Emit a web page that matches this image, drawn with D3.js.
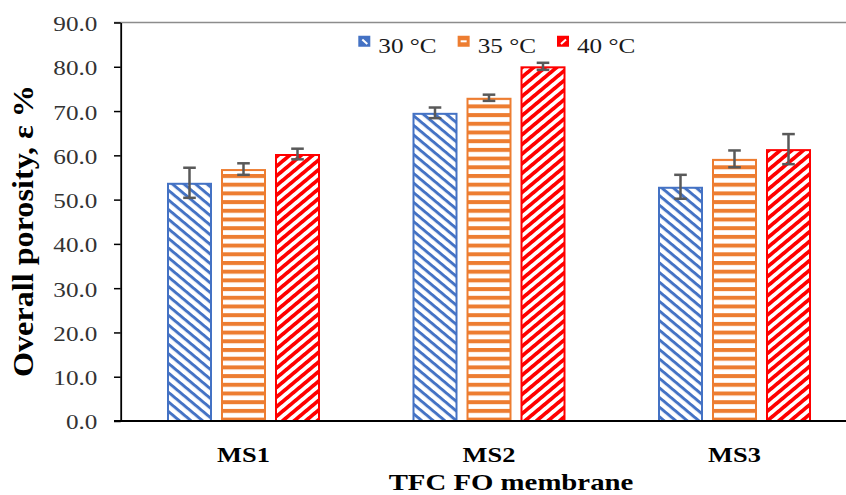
<!DOCTYPE html>
<html>
<head>
<meta charset="utf-8">
<script src="https://cdn.jsdelivr.net/npm/d3@7"></script>
<style>
  html, body { margin: 0; padding: 0; background: #fff; }
  svg { display: block; font-family: "Liberation Serif", "Times New Roman", serif; }
</style>
</head>
<body>
<svg id="chart" width="846" height="495"></svg>
<script>
// ---- data ----
const categories = ["MS1", "MS2", "MS3"];
const seriesNames = ["30 °C", "35 °C", "40 °C"];
const values30 = [53.8, 69.6, 52.9];
const values35 = [56.9, 73.0, 59.2];
const values40 = [60.3, 80.1, 61.4];
const errors30 = [3.4, 1.2, 2.7];
const errors35 = [1.3, 0.7, 1.9];
const errors40 = [1.2, 0.8, 3.4];
const yTicks = [0, 10, 20, 30, 40, 50, 60, 70, 80, 90];
const yTitle = "Overall porosity, ε %";
const xTitle = "TFC FO membrane";

const seriesValues = [values30, values35, values40];
const seriesErrors = [errors30, errors35, errors40];
const colors = ["#4472C4", "#ED7D31", "#FF0000"];

const svg = d3.select("#chart");

// ---- patterns ----
const defs = svg.append("defs");
function stripePattern(id, color, period, thick, transform) {
  const p = defs.append("pattern")
    .attr("id", id)
    .attr("patternUnits", "userSpaceOnUse")
    .attr("width", period).attr("height", period);
  if (transform) p.attr("patternTransform", transform);
  p.append("rect").attr("width", period).attr("height", period).attr("fill", "#fff");
  p.append("rect").attr("x", 0).attr("y", 0).attr("width", period).attr("height", thick).attr("fill", color);
}
stripePattern("p0", colors[0], 6.8, 2.7, "scale(1.2,1) rotate(45)");
stripePattern("p1", colors[1], 8.7, 4.0, null);
stripePattern("p2", colors[2], 6.8, 3.4, "scale(1.2,1) rotate(-45)");

// ---- scales ----
const x = d3.scaleBand().domain(categories).range([120.75, 857.25]).paddingInner(0).paddingOuter(0);
const xs = d3.scaleBand().domain(d3.range(seriesNames.length)).range([-76.5, 76.5]).paddingInner(9 / 54).paddingOuter(0);
const y = d3.scaleLinear().domain([0, 90]).range([421, 22.5]);

// ---- gridline at top ----
svg.append("line")
  .attr("x1", 114).attr("x2", 846)
  .attr("y1", y(90)).attr("y2", y(90))
  .attr("stroke", "#8c8c8c").attr("stroke-width", 1.5);

// ---- bars ----
const rows = [];
categories.forEach((c, ci) => {
  seriesValues.forEach((vals, si) => {
    rows.push({ cat: c, s: si, v: vals[ci], e: seriesErrors[si][ci] });
  });
});

const cx = d => x(d.cat) + x.bandwidth() / 2 + xs(d.s);

svg.append("g").selectAll("rect")
  .data(rows).join("rect")
  .attr("x", d => cx(d) + 1)
  .attr("y", d => y(d.v) + 1)
  .attr("width", xs.bandwidth() - 2)
  .attr("height", d => y(0) - y(d.v) - 1)
  .attr("fill", d => `url(#p${d.s})`)
  .attr("stroke", d => colors[d.s])
  .attr("stroke-width", 2);

// ---- error bars ----
const eg = svg.append("g").attr("stroke", "#595959").attr("stroke-width", 2.5);
rows.forEach(d => {
  const mx = cx(d) + xs.bandwidth() / 2;
  eg.append("line").attr("x1", mx).attr("x2", mx).attr("y1", y(d.v + d.e)).attr("y2", y(d.v - d.e));
  eg.append("line").attr("x1", mx - 6.3).attr("x2", mx + 6.3).attr("y1", y(d.v + d.e)).attr("y2", y(d.v + d.e));
  eg.append("line").attr("x1", mx - 6.3).attr("x2", mx + 6.3).attr("y1", y(d.v - d.e)).attr("y2", y(d.v - d.e));
});

// ---- y axis ----
const yAxis = svg.append("g")
  .attr("transform", "translate(120.7,0)")
  .call(d3.axisLeft(y).tickValues(yTicks).tickSize(6.7).tickSizeOuter(0).tickFormat(d3.format(".1f")));
yAxis.select(".domain").attr("stroke", "#000").attr("stroke-width", 1.8);
yAxis.selectAll(".tick line").attr("stroke", "#000").attr("stroke-width", 1.5);
yAxis.selectAll(".tick text")
  .attr("x", 0).attr("dy", "0.38em")
  .attr("transform", "translate(-23.3,0) scale(1.2,1)")
  .attr("text-anchor", "end")
  .attr("font-family", "'Liberation Serif', 'Times New Roman', serif")
  .attr("font-size", 21)
  .attr("fill", "#333");

// ---- x axis ----
const xAxis = svg.append("g")
  .attr("transform", `translate(0,${y(0)})`)
  .call(d3.axisBottom(x).tickSize(0).tickSizeOuter(0).tickPadding(0));
xAxis.select(".domain").attr("stroke", "#000").attr("stroke-width", 1.8)
  .attr("d", "M114,0H846");
xAxis.selectAll(".tick text")
  .attr("y", 0).attr("dy", 0)
  .attr("transform", "translate(0,41) scale(1.2,1)")
  .attr("text-anchor", "middle")
  .attr("font-family", "'Liberation Serif', 'Times New Roman', serif")
  .attr("font-size", 22)
  .attr("font-weight", "bold")
  .attr("fill", "#000");

// ---- titles ----
svg.append("text")
  .attr("transform", "translate(33,231) rotate(-90)")
  .attr("text-anchor", "middle")
  .attr("font-size", 30)
  .attr("font-weight", "bold")
  .attr("textLength", 292)
  .attr("lengthAdjust", "spacingAndGlyphs")
  .text(yTitle);

svg.append("text")
  .attr("transform", "translate(511,490) scale(1.2,1)")
  .attr("text-anchor", "middle")
  .attr("font-size", 24)
  .attr("font-weight", "bold")
  .text(xTitle);

// ---- legend ----
const lx = d3.scalePoint().domain(d3.range(seriesNames.length)).range([358.3, 557]);
const lg = svg.append("g").selectAll("g").data(seriesNames).join("g")
  .attr("transform", (d, i) => `translate(${lx(i)},0)`);
lg.append("rect")
  .attr("x", 0.75).attr("y", 36.5).attr("width", 10.5).attr("height", 9.5)
  .attr("fill", (d, i) => colors[i])
  .attr("stroke", (d, i) => colors[i]).attr("stroke-width", 1.5);
lg.append("line")
  .attr("x1", (d, i) => i === 0 ? 4 : (i === 1 ? 3 : 4))
  .attr("y1", (d, i) => i === 1 ? 41.3 : (i === 0 ? 39.5 : 44))
  .attr("x2", (d, i) => i === 0 ? 9 : (i === 1 ? 9 : 9))
  .attr("y2", (d, i) => i === 1 ? 41.3 : (i === 0 ? 44 : 39.5))
  .attr("stroke", "#fff").attr("stroke-width", 2);
lg.append("text")
  .attr("transform", "translate(20,52.5) scale(1.2,1)")
  .attr("font-size", 21)
  .attr("fill", "#1a1a1a")
  .text(d => d);
</script>
</body>
</html>
